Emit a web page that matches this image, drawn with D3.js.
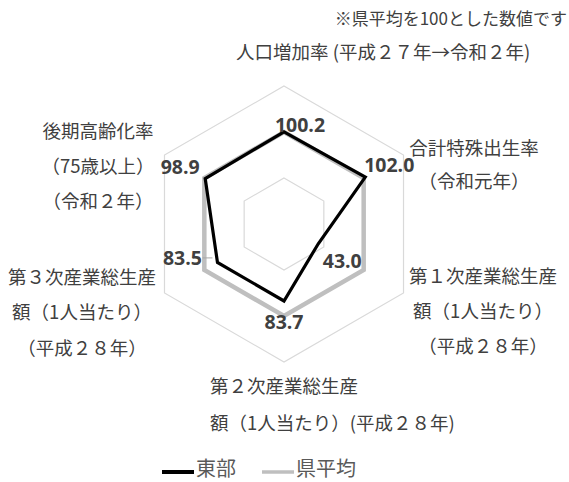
<!DOCTYPE html>
<html><head><meta charset="utf-8">
<script src="https://cdn.jsdelivr.net/npm/d3@7/dist/d3.min.js"></script>
<style>
html,body{margin:0;padding:0;background:#fff;}
svg{display:block;}
</style></head>
<body>
<svg id="chart" width="569" height="482"></svg>
<script>
// ---- data ----
const categories = [
  ["人口増加率 (平成２７年→令和２年)"],
  ["合計特殊出生率", "（令和元年）"],
  ["第１次産業総生産", "額（1人当たり）", "（平成２８年）"],
  ["第２次産業総生産", "額（1人当たり）(平成２８年)"],
  ["第３次産業総生産", "額（1人当たり）", "（平成２８年）"],
  ["後期高齢化率", "（75歳以上）", "（令和２年）"]
];
const seriesNames = ["東部", "県平均"];
const touBu = [100.2, 102.0, 43.0, 83.7, 83.5, 98.9];
const kenHeikin = [100, 100, 100, 100, 100, 100];
const gridTicks = [50, 100, 150];
const noteText = "※県平均を100とした数値です";

// ---- layout ----
const svg = d3.select("#chart");
const cx = 284, cy = 224, R = 138;
const r = d3.scaleLinear().domain([0, 150]).range([0, R]);
const ang = d3.scaleLinear().domain([0, categories.length]).range([0, 2 * Math.PI]);
const pt = (v, i) => [cx + r(v) * Math.sin(ang(i)), cy - r(v) * Math.cos(ang(i))];

const textColor = "#404040";
const jp = "'Noto Sans CJK JP','Noto Sans CJK SC',sans-serif";

// grid rings
const ringLine = d3.line().curve(d3.curveLinearClosed);
svg.append("g").selectAll("path").data(gridTicks).join("path")
  .attr("d", t => ringLine(categories.map((c, i) => pt(t, i))))
  .attr("fill", "none").attr("stroke", "#d9d9d9").attr("stroke-width", 1.2);

// series
const series = [
  {name: seriesNames[1], values: kenHeikin, color: "#bfbfbf", width: 4.5},
  {name: seriesNames[0], values: touBu, color: "#000000", width: 3.2}
];
svg.append("g").selectAll("path").data(series).join("path")
  .attr("d", s => ringLine(s.values.map((v, i) => pt(v, i))))
  .attr("fill", "none").attr("stroke", s => s.color)
  .attr("stroke-width", s => s.width).attr("stroke-linejoin", "miter");

// data labels (offsets relative to each point)
const labelOffsets = [[16, 0], [24, -5], [24, 24], [0, 28], [-35, 3], [-25, -4.5]];
const lbl = svg.append("g");
touBu.forEach((v, i) => {
  const [x, y] = pt(v, i);
  lbl.append("text")
    .attr("x", x + labelOffsets[i][0]).attr("y", y + labelOffsets[i][1])
    .attr("text-anchor", "middle")
    .attr("font-family", "'Open Sans',sans-serif").attr("font-weight", 700)
    .attr("font-size", 19.5).attr("fill", textColor)
    .text(v.toFixed(1));
});
// leader line for the 83.5 label
{
  const [x, y] = pt(touBu[4], 4);
  lbl.append("line").attr("x1", x - 15).attr("x2", x - 5).attr("y1", y - 4.5).attr("y2", y - 4.5)
    .attr("stroke", "#a6a6a6").attr("stroke-width", 1);
}

// category labels: [anchor x, text-anchor, first line center y, line step]
const catLayout = [
  [236, "start", 52, 0],
  [474, "middle", 148, 33],
  [483, "middle", 276, 35],
  [210, "start", 386, 37],
  [82, "middle", 277, 35.5],
  [98, "middle", 131, 35]
];
const cat = svg.append("g").attr("font-family", jp).attr("font-size", 18.5).attr("fill", textColor);
categories.forEach((lines, i) => {
  const [x, anchor, y0, step] = catLayout[i];
  lines.forEach((ln, j) => {
    cat.append("text").attr("x", x).attr("y", y0 + j * step)
      .attr("dy", "0.36em").attr("text-anchor", anchor).text(ln);
  });
});

// note
svg.append("text").attr("x", 567).attr("y", 19).attr("dy", "0.36em")
  .attr("text-anchor", "end").attr("font-family", jp).attr("font-size", 17)
  .attr("fill", textColor).text(noteText);

// legend
const legendItems = [
  {name: seriesNames[0], color: "#000000", w: 4, x: 162},
  {name: seriesNames[1], color: "#bfbfbf", w: 3.5, x: 262}
];
const lg = svg.append("g");
legendItems.forEach(d => {
  lg.append("line").attr("x1", d.x).attr("x2", d.x + 32).attr("y1", 472).attr("y2", 472)
    .attr("stroke", d.color).attr("stroke-width", d.w);
  lg.append("text").attr("x", d.x + 34).attr("y", 469).attr("dy", "0.36em")
    .attr("font-family", jp).attr("font-size", 20).attr("fill", "#595959").text(d.name);
});
</script>
</body></html>
